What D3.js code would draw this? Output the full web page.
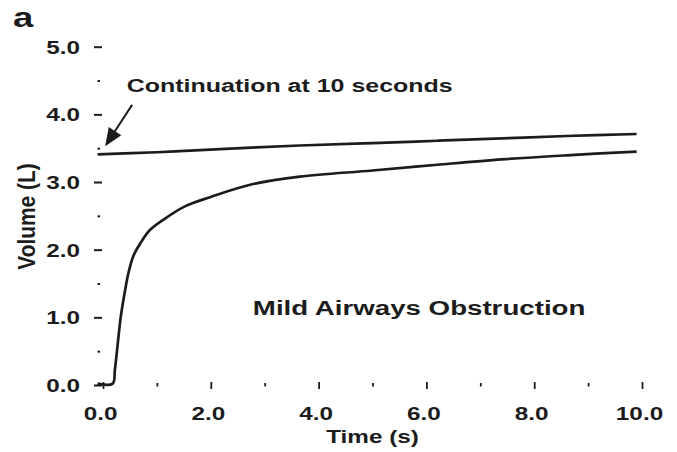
<!DOCTYPE html>
<html>
<head>
<meta charset="utf-8">
<script src="https://cdn.jsdelivr.net/npm/d3@7/dist/d3.min.js"></script>
<style>
  html, body { margin: 0; padding: 0; background: #fff; }
  svg { display: block; }
  text { font-family: "Liberation Sans", Arial, Helvetica, sans-serif; font-weight: bold; fill: #1c1c1c; }
</style>
</head>
<body>
<svg id="chart" width="677" height="452"></svg>
<script>
// Spirometry volume-time traces (mild airways obstruction)
const timeMain   = [-0.1, 0.18, 0.22, 0.28, 0.33, 0.41, 0.47, 0.56, 0.69, 0.87, 1.15, 1.52, 2.0, 2.73, 3.65, 5.0, 6.2, 7.4, 8.6, 9.9];
const volumeMain = [0.02, 0.02, 0.22, 0.66, 1.01, 1.40, 1.65, 1.90, 2.09, 2.29, 2.46, 2.64, 2.78, 2.96, 3.08, 3.17, 3.255, 3.335, 3.395, 3.45];

// Continuation of the same manoeuvre beyond 10 seconds
const timeCont   = [-0.1, 1.0, 1.8, 3.65, 5.0, 6.2, 7.4, 8.6, 9.9];
const volumeCont = [3.41, 3.44, 3.47, 3.54, 3.575, 3.61, 3.645, 3.68, 3.71];

const xMajorTicks = [0, 2, 4, 6, 8, 10];
const xMinorTicks = [1, 3, 5, 7, 9];
const yMajorTicks = [0, 1, 2, 3, 4, 5];
const yMinorTicks = [0.5, 1.5, 2.5, 3.5, 4.5];

const panelLabel = "a";
const xTitle = "Time (s)";
const yTitle = "Volume (L)";
const noteText = "Continuation at 10 seconds";
const noteAt = [0.44, 4.33];       // text start (time, volume)
const arrowFrom = [0.54, 4.14];    // arrow tail (time, volume)
const arrowTo = [0.04, 3.53];      // arrow tip (time, volume)
const caseText = "Mild Airways Obstruction";
const caseAt = [2.78, 1.03];

const svg = d3.select("#chart");
const ink = "#1c1c1c";
const sx = 1.35; // wide lettering

const x = d3.scaleLinear().domain([0, 10]).range([103, 642]);
const y = d3.scaleLinear().domain([0, 5]).range([385, 46.7]);
const fmt = d3.format(".1f");

// x axis: major ticks with labels, minor ticks without
const gxMaj = svg.append("g").attr("transform", "translate(0,389)")
  .call(d3.axisBottom(x).tickValues(xMajorTicks).tickSizeInner(-7).tickSizeOuter(0).tickFormat(fmt));
const gxMin = svg.append("g").attr("transform", "translate(0,386.5)")
  .call(d3.axisBottom(x).tickValues(xMinorTicks).tickSizeInner(-3.5).tickSizeOuter(0).tickFormat(""));
[gxMaj, gxMin].forEach(g => {
  g.select(".domain").remove();
  g.selectAll(".tick line").attr("stroke", ink).attr("stroke-width", 1.8);
});
gxMaj.selectAll(".tick text")
  .attr("y", 31).attr("dy", 0).attr("dx", -3 / sx)
  .attr("transform", `scale(${sx},1)`)
  .style("font-size", "18px").attr("fill", ink);

// y axis
const gyMaj = svg.append("g").attr("transform", "translate(102,0)")
  .call(d3.axisLeft(y).tickValues(yMajorTicks).tickSizeInner(8).tickSizeOuter(0).tickFormat(fmt));
const gyMin = svg.append("g").attr("transform", "translate(100,0)")
  .call(d3.axisLeft(y).tickValues(yMinorTicks).tickSizeInner(2.5).tickSizeOuter(0).tickFormat(""));
[gyMaj, gyMin].forEach(g => {
  g.select(".domain").remove();
  g.selectAll(".tick line").attr("stroke", ink).attr("stroke-width", 2);
});
gyMaj.selectAll(".tick text")
  .attr("x", -22 / sx).attr("dy", "0.36em")
  .attr("transform", `scale(${sx},1)`)
  .style("font-size", "18px").attr("fill", ink);

// traces
const line = d3.line().x(d => x(d[0])).y(d => y(d[1])).curve(d3.curveCatmullRom.alpha(0.5));
svg.append("path")
  .datum(d3.zip(timeCont, volumeCont))
  .attr("d", line).attr("fill", "none").attr("stroke", ink).attr("stroke-width", 2.7);
svg.append("path")
  .datum(d3.zip(timeMain, volumeMain))
  .attr("d", line).attr("fill", "none").attr("stroke", ink).attr("stroke-width", 2.7);

// helper for horizontally stretched labels
function label(px, py, str, size, anchor) {
  return svg.append("text")
    .attr("transform", `translate(${px},${py}) scale(${sx},1)`)
    .attr("text-anchor", anchor || "start")
    .style("font-size", size + "px")
    .text(str);
}

label(13, 26.5, panelLabel, 27);
label(x(5), 443, xTitle, 18, "middle");
label(x(noteAt[0]), y(noteAt[1]), noteText, 18.5);
label(x(caseAt[0]), y(caseAt[1]), caseText, 20.5);

svg.append("text")
  .attr("transform", "translate(35,216.5) rotate(-90) scale(1.02,1.2)")
  .attr("text-anchor", "middle")
  .style("font-size", "20.5px")
  .text(yTitle);

// arrow pointing at the start of the continuation trace
const ax0 = x(arrowFrom[0]), ay0 = y(arrowFrom[1]);
const ax1 = x(arrowTo[0]), ay1 = y(arrowTo[1]);
const len = Math.hypot(ax1 - ax0, ay1 - ay0);
const ux = (ax1 - ax0) / len, uy = (ay1 - ay0) / len;
const headL = 18, headW = 7.5;
const bx = ax1 - ux * headL, by = ay1 - uy * headL;
svg.append("line")
  .attr("x1", ax0).attr("y1", ay0).attr("x2", bx + ux * 2).attr("y2", by + uy * 2)
  .attr("stroke", ink).attr("stroke-width", 2);
svg.append("path")
  .attr("d", `M${ax1},${ay1} L${bx - uy * headW},${by + ux * headW} L${bx + uy * headW},${by - ux * headW} Z`)
  .attr("fill", ink);
</script>
</body>
</html>
